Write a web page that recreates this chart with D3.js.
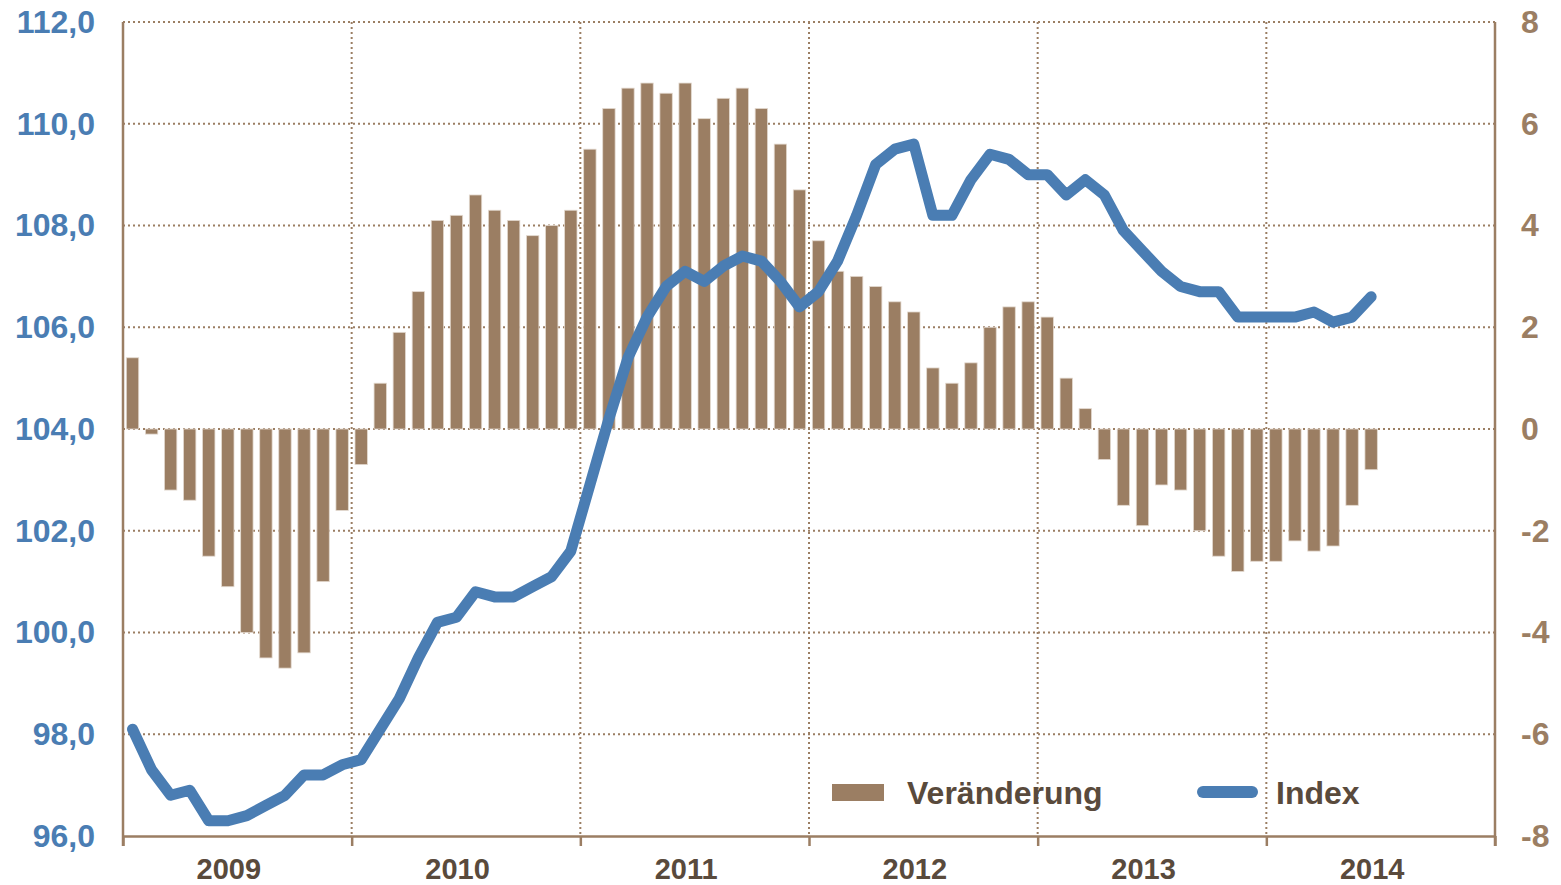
<!DOCTYPE html>
<html>
<head>
<meta charset="utf-8">
<script src="https://cdn.jsdelivr.net/npm/d3@7"></script>
<style>
  body { margin: 0; background: #fff; }
  svg { display: block; font-family: "Liberation Sans", Arial, sans-serif; font-weight: bold; }
</style>
</head>
<body>
<svg id="chart" width="1561" height="885"></svg>
<script>
// years on the x axis, monthly data Jan 2009 - Jun 2014
var years = ["2009", "2010", "2011", "2012", "2013", "2014"];

// Veränderung (right axis)
var veraenderung = [
  1.4, -0.1, -1.2, -1.4, -2.5, -3.1, -4.0, -4.5, -4.7, -4.4, -3.0, -1.6,
  -0.7, 0.9, 1.9, 2.7, 4.1, 4.2, 4.6, 4.3, 4.1, 3.8, 4.0, 4.3,
  5.5, 6.3, 6.7, 6.8, 6.6, 6.8, 6.1, 6.5, 6.7, 6.3, 5.6, 4.7,
  3.7, 3.1, 3.0, 2.8, 2.5, 2.3, 1.2, 0.9, 1.3, 2.0, 2.4, 2.5,
  2.2, 1.0, 0.4, -0.6, -1.5, -1.9, -1.1, -1.2, -2.0, -2.5, -2.8, -2.6,
  -2.6, -2.2, -2.4, -2.3, -1.5, -0.8
];

// Index (left axis)
var indexValues = [
  98.1, 97.3, 96.8, 96.9, 96.3, 96.3, 96.4, 96.6, 96.8, 97.2, 97.2, 97.4,
  97.5, 98.1, 98.7, 99.5, 100.2, 100.3, 100.8, 100.7, 100.7, 100.9, 101.1, 101.6,
  102.9, 104.2, 105.4, 106.2, 106.8, 107.1, 106.9, 107.2, 107.4, 107.3, 106.9, 106.4,
  106.7, 107.3, 108.2, 109.2, 109.5, 109.6, 108.2, 108.2, 108.9, 109.4, 109.3, 109.0,
  109.0, 108.6, 108.9, 108.6, 107.9, 107.5, 107.1, 106.8, 106.7, 106.7, 106.2, 106.2,
  106.2, 106.2, 106.3, 106.1, 106.2, 106.6
];

var leftTicks = [96, 98, 100, 102, 104, 106, 108, 110, 112];
var rightTicks = [-8, -6, -4, -2, 0, 2, 4, 6, 8];

var cfg = {
  left: 123, right: 1495, top: 22, bottom: 836,
  brown: "#9b7e63", blue: "#4a7db3", text: "#594a3c"
};

var de = d3.formatLocale({ decimal: ",", thousands: ".", grouping: [3], currency: ["", "€"], minus: "-" });

var svg = d3.select("#chart");
var nMonths = years.length * 12;

var x = d3.scaleBand()
  .domain(d3.range(nMonths))
  .range([cfg.left, cfg.right])
  .paddingInner(0.35)
  .paddingOuter(0.175);

var xYear = d3.scaleLinear()
  .domain([+years[0], +years[years.length - 1] + 1])
  .range([cfg.left, cfg.right]);

var yLeft = d3.scaleLinear().domain([96, 112]).range([cfg.bottom, cfg.top]);
var yRight = d3.scaleLinear().domain([-8, 8]).range([cfg.bottom, cfg.top]);

// grid
svg.append("g").attr("class", "grid")
  .selectAll("line.h")
  .data(leftTicks.slice(1))
  .enter().append("line")
    .attr("x1", cfg.left).attr("x2", cfg.right)
    .attr("y1", function(d) { return yLeft(d); })
    .attr("y2", function(d) { return yLeft(d); })
    .attr("stroke", cfg.brown)
    .attr("stroke-width", 2)
    .attr("stroke-dasharray", "2,3");

svg.select(".grid")
  .selectAll("line.v")
  .data(d3.range(+years[0] + 1, +years[years.length - 1] + 1))
  .enter().append("line")
    .attr("x1", function(d) { return xYear(d); })
    .attr("x2", function(d) { return xYear(d); })
    .attr("y1", cfg.top).attr("y2", cfg.bottom)
    .attr("stroke", cfg.brown)
    .attr("stroke-width", 2)
    .attr("stroke-dasharray", "2,3");

// bars
svg.append("g")
  .selectAll("rect")
  .data(veraenderung)
  .enter().append("rect")
    .attr("x", function(d, i) { return x(i); })
    .attr("width", x.bandwidth())
    .attr("y", function(d) { return yRight(Math.max(0, d)); })
    .attr("height", function(d) { return Math.abs(yRight(d) - yRight(0)); })
    .attr("fill", cfg.brown)
    .attr("stroke", "#e3d9cf")
    .attr("stroke-width", 0.8);

// index line
var line = d3.line()
  .x(function(d, i) { return x(i) + x.bandwidth() / 2; })
  .y(function(d) { return yLeft(d); });

svg.append("path")
  .datum(indexValues)
  .attr("d", line)
  .attr("fill", "none")
  .attr("stroke", cfg.blue)
  .attr("stroke-width", 11)
  .attr("stroke-linejoin", "round")
  .attr("stroke-linecap", "round");

// axes
var gL = svg.append("g")
  .attr("transform", "translate(" + cfg.left + ",0)")
  .call(d3.axisLeft(yLeft).tickValues(leftTicks).tickSize(0).tickPadding(28)
    .tickFormat(de.format(".1f")));
gL.select(".domain").remove();
gL.selectAll("text")
  .attr("fill", cfg.blue)
  .style("font-size", "32px")
  .style("font-family", "'Liberation Sans', Arial, sans-serif")
  .style("font-weight", "bold");

var gR = svg.append("g")
  .attr("transform", "translate(" + cfg.right + ",0)")
  .call(d3.axisRight(yRight).tickValues(rightTicks).tickSize(0).tickPadding(26)
    .tickFormat(de.format("d")));
gR.select(".domain").remove();
gR.selectAll("text")
  .attr("fill", cfg.brown)
  .style("font-size", "32px")
  .style("font-family", "'Liberation Sans', Arial, sans-serif")
  .style("font-weight", "bold");

// axis lines
svg.append("line")
  .attr("x1", cfg.left).attr("x2", cfg.left)
  .attr("y1", cfg.top).attr("y2", cfg.bottom + 10)
  .attr("stroke", cfg.brown).attr("stroke-width", 2.5);
svg.append("line")
  .attr("x1", cfg.right).attr("x2", cfg.right)
  .attr("y1", cfg.top).attr("y2", cfg.bottom + 10)
  .attr("stroke", cfg.brown).attr("stroke-width", 2.5);

var gB = svg.append("g")
  .attr("transform", "translate(0," + cfg.bottom + ")")
  .call(d3.axisBottom(xYear).tickValues(d3.range(+years[0], +years[years.length - 1] + 2))
    .tickSize(10).tickSizeOuter(0).tickFormat(""));
gB.select(".domain").attr("stroke", cfg.brown).attr("stroke-width", 2.5);
gB.selectAll(".tick line").attr("stroke", cfg.brown).attr("stroke-width", 2.5);

// year labels sit slightly left of the year's middle, as in the original
var gY = svg.append("g")
  .attr("transform", "translate(-9," + cfg.bottom + ")")
  .call(d3.axisBottom(xYear).tickValues(years.map(function(y) { return +y + 0.5; }))
    .tickSize(0).tickPadding(22).tickFormat(function(d) { return years[Math.floor(d) - +years[0]]; }));
gY.select(".domain").remove();
gY.selectAll("text")
  .attr("fill", cfg.text)
  .style("font-size", "29px")
  .style("font-family", "'Liberation Sans', Arial, sans-serif")
  .style("font-weight", "bold");

// legend
var legend = svg.append("g");
legend.append("rect")
  .attr("x", 832).attr("y", 784).attr("width", 52).attr("height", 17)
  .attr("fill", cfg.brown);
legend.append("text")
  .attr("x", 907).attr("y", 804)
  .attr("fill", cfg.text)
  .style("font-size", "32px")
  .text("Veränderung");
legend.append("line")
  .attr("x1", 1203).attr("x2", 1252).attr("y1", 792).attr("y2", 792)
  .attr("stroke", cfg.blue).attr("stroke-width", 12).attr("stroke-linecap", "round");
legend.append("text")
  .attr("x", 1276).attr("y", 804)
  .attr("fill", cfg.text)
  .style("font-size", "32px")
  .text("Index");
</script>
</body>
</html>
